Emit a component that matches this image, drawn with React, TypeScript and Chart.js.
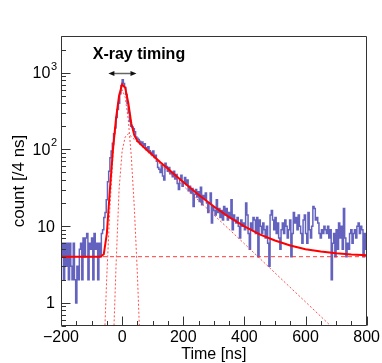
import { useEffect, useRef } from "react";
import { Chart, registerables } from "chart.js";

Chart.register(...registerables);

// ---- data ----
const X_START = -200;
const BIN_WIDTH = 4;
// counts per 4 ns bin, from -200 ns to 800 ns (250 bins)
const COUNTS = [
  4, 6, 2, 6, 3, 6, 2, 6, 3, 2,
  6, 2, 1, 3, 2, 5, 6, 2, 7, 4,
  7, 8, 2, 6, 5, 7, 2, 8, 5, 6,
  2, 6, 4, 8, 9, 13, 15, 22, 38, 52,
  78, 95, 120, 160, 190, 260, 330, 400, 530, 680,
  810, 720, 640, 520, 400, 300, 230, 200, 195, 185,
  170, 145, 140, 135, 128, 120, 125, 112, 118, 105,
  100, 108, 96, 92, 88, 95, 80, 84, 70, 58,
  55, 50, 62, 45, 40, 66, 60, 52, 58, 48,
  50, 44, 52, 41, 47, 36, 30, 40, 46, 33,
  38, 43, 35, 40, 29, 33, 27, 31, 18, 26,
  30, 24, 28, 21, 32, 19, 25, 23, 27, 20,
  15, 20, 27, 11, 18, 16, 14, 22, 15, 17,
  13, 16, 12, 18, 14, 17, 12, 15, 13, 22,
  9, 14, 12, 11, 13, 10, 7, 12, 10, 11,
  9, 20, 14, 8, 5, 11, 9, 13, 12, 8,
  13, 4, 12, 10, 8, 11, 9, 7, 10, 6,
  3, 14, 16, 12, 9, 13, 8, 11, 7, 5,
  9, 11, 8, 12, 10, 7, 9, 12, 4, 8,
  15, 11, 13, 9, 14, 10, 8, 6, 12, 14,
  8, 6, 15, 9, 7, 10, 18, 17, 12, 13,
  11, 8, 7, 9, 8, 10, 9, 8, 10, 7,
  9, 2, 6, 8, 4, 9, 5, 11, 7, 10,
  5, 17, 7, 4, 6, 5, 8, 9, 6, 8,
  9, 7, 10, 11, 8, 10, 9, 4, 8, 5,
];

// total fit curve
const FIT_X = [-200, -80, -70, -60, -50, -40, -30, -20, -10, 0, 10, 20, 30, 40, 50, 60, 80, 100, 125, 150, 175, 200, 250, 300, 350, 400, 450, 500, 550, 600, 650, 700, 750, 800];
const FIT_Y = [4, 4, 4.02, 4.3, 8, 30, 100, 252, 500, 705, 638, 405, 218, 152, 129, 117, 99, 84, 68, 56, 45.6, 37.5, 25.7, 18, 13.1, 9.9, 7.8, 6.5, 5.6, 5.0, 4.67, 4.43, 4.28, 4.18];

// prompt (gaussian) component
const PROMPT_X = [-70, -60, -50, -40, -30, -20, -10, 0, 10, 20, 30, 40, 50, 60, 70];
const PROMPT_Y = [0.011, 0.2, 2.32, 17.1, 81.2, 246.6, 480.6, 600, 480.6, 246.6, 81.2, 17.1, 2.32, 0.2, 0.011];

// delayed (exponential) component
const DELAYED_X = [-40, -30, -20, -10, 0, 10, 20, 30, 40, 60, 100, 150, 200, 300, 400, 500, 600, 700, 800];
const DELAYED_Y = [0.02, 0.2, 3, 30, 95, 145, 160, 147, 134.5, 113.5, 79.8, 51.7, 33.5, 14.0, 5.9, 2.46, 1.03, 0.43, 0.18];

// constant background
const BG_X = [-200, 800];
const BG_Y = [4, 4];

const X_MIN = -200;
const X_MAX = 800;
const Y_MIN = 0.5;
const Y_MAX = 3000;
const X_TICKS = [-200, 0, 200, 400, 600, 800];
const X_MINOR_STEP = 50;
const Y_TICKS = [1, 10, 100, 1000];
const Y_TICK_BASE = ["1", "10", "10", "10"];
const Y_TICK_EXP = ["", "", "2", "3"];

const LABEL = "X-ray timing";
const LABEL_X = 55;
const LABEL_Y = 1490;
const ARROW_X = [-45, 47];
const ARROW_Y = 1000;

const FONT = "'Liberation Sans', Arial, Helvetica, sans-serif";

const pts = (xs: number[], ys: number[]) => xs.map((x, i) => ({ x, y: ys[i] }));

const decor = {
  id: "decor",
  afterDatasetsDraw(chart: any) {
    const { ctx, chartArea: a, scales } = chart;
    const xs = scales.x;
    const ys = scales.y;
    ctx.save();
    const L = Math.round(a.left) + 0.5;
    const R = Math.round(a.right) - 0.5;
    const T = Math.round(a.top) + 0.5;
    const B = Math.round(a.bottom) - 0.5;
    ctx.strokeStyle = "#333";
    ctx.lineWidth = 1;
    ctx.beginPath();
    ctx.rect(L, T, R - L, B - T);
    ctx.stroke();

    // x ticks
    ctx.beginPath();
    for (let v = X_MIN; v <= X_MAX; v += X_MINOR_STEP) {
      const px = Math.round(xs.getPixelForValue(v)) + 0.5;
      const len = X_TICKS.includes(v) ? 9 : 4.5;
      ctx.moveTo(px, B);
      ctx.lineTo(px, B - len);
    }
    // y ticks
    for (let d = 0.1; d <= 1000; d *= 10) {
      for (let m = 1; m <= 9; m++) {
        const v = Math.round(m * d * 100) / 100;
        if (v < Y_MIN || v > Y_MAX) continue;
        const py = Math.round(ys.getPixelForValue(v)) + 0.5;
        const len = m === 1 ? 9 : 4.5;
        ctx.moveTo(L, py);
        ctx.lineTo(L + len, py);
      }
    }
    ctx.stroke();

    // y tick labels (with superscript exponents)
    ctx.fillStyle = "#000";
    ctx.textBaseline = "middle";
    ctx.textAlign = "right";
    Y_TICKS.forEach((v, i) => {
      const py = ys.getPixelForValue(v);
      const exp = Y_TICK_EXP[i];
      if (exp) {
        ctx.font = `11px ${FONT}`;
        const ew = ctx.measureText(exp).width;
        ctx.fillText(exp, a.left - 4, py - 6);
        ctx.font = `16px ${FONT}`;
        ctx.fillText(Y_TICK_BASE[i], a.left - 4 - ew - 0.5, py + 1);
      } else {
        ctx.font = `16px ${FONT}`;
        ctx.fillText(Y_TICK_BASE[i], a.left - 6, py + 1);
      }
    });

    // arrow
    const x1 = xs.getPixelForValue(ARROW_X[0]);
    const x2 = xs.getPixelForValue(ARROW_X[1]);
    const ay = Math.round(ys.getPixelForValue(ARROW_Y)) + 0.5;
    ctx.strokeStyle = "#666";
    ctx.lineWidth = 1.5;
    ctx.beginPath();
    ctx.moveTo(x1 + 4, ay);
    ctx.lineTo(x2 - 4, ay);
    ctx.stroke();
    ctx.fillStyle = "#111";
    ctx.beginPath();
    ctx.moveTo(x1, ay);
    ctx.lineTo(x1 + 6, ay - 2.6);
    ctx.lineTo(x1 + 6, ay + 2.6);
    ctx.closePath();
    ctx.moveTo(x2, ay);
    ctx.lineTo(x2 - 6, ay - 2.6);
    ctx.lineTo(x2 - 6, ay + 2.6);
    ctx.closePath();
    ctx.fill();

    // label
    ctx.fillStyle = "#000";
    ctx.font = `bold 16px ${FONT}`;
    ctx.textAlign = "center";
    ctx.textBaseline = "alphabetic";
    ctx.fillText(LABEL, xs.getPixelForValue(LABEL_X), ys.getPixelForValue(LABEL_Y));
    ctx.restore();
  },
};

export default function App() {
  const ref = useRef<HTMLCanvasElement | null>(null);

  useEffect(() => {
    if (!ref.current) return;
    Chart.defaults.font.family = FONT;
    const hist = COUNTS.map((c, i) => ({ x: X_START + i * BIN_WIDTH, y: c }));
    hist.push({ x: X_START + COUNTS.length * BIN_WIDTH, y: COUNTS[COUNTS.length - 1] });

    const chart = new Chart(ref.current, {
      type: "line",
      data: {
        datasets: [
          {
            label: "fit",
            data: pts(FIT_X, FIT_Y),
            borderColor: "#ff0000",
            borderWidth: 2,
            pointRadius: 0,
            tension: 0,
          },
          {
            label: "prompt",
            data: pts(PROMPT_X, PROMPT_Y),
            borderColor: "rgba(255,60,60,0.9)",
            borderWidth: 1,
            borderDash: [2, 2],
            pointRadius: 0,
            tension: 0,
          },
          {
            label: "delayed",
            data: pts(DELAYED_X, DELAYED_Y),
            borderColor: "rgba(255,60,60,0.9)",
            borderWidth: 1,
            borderDash: [2, 2],
            pointRadius: 0,
            tension: 0,
          },
          {
            label: "background",
            data: pts(BG_X, BG_Y),
            borderColor: "rgba(255,40,40,0.9)",
            borderWidth: 1,
            borderDash: [4, 3],
            pointRadius: 0,
            tension: 0,
          },
          {
            label: "data",
            data: hist,
            borderColor: "rgba(60,60,175,0.8)",
            borderWidth: 1.5,
            pointRadius: 0,
            stepped: true,
          },
        ],
      },
      options: {
        responsive: false,
        animation: false,
        devicePixelRatio: 1,
        layout: { padding: { left: 0, right: 15, top: 36, bottom: 0 } },
        plugins: { legend: { display: false }, tooltip: { enabled: false } },
        scales: {
          x: {
            type: "linear",
            min: X_MIN,
            max: X_MAX,
            grid: { display: false, drawTicks: false },
            border: { display: false },
            ticks: {
              padding: 2,
              color: "#000",
              font: { size: 16, family: FONT },
              maxRotation: 0,
              callback: (v: any) => (v < 0 ? "\u2212" + Math.abs(v) : String(v)),
            },
            afterBuildTicks: (s: any) => {
              s.ticks = X_TICKS.map((v) => ({ value: v }));
            },
            afterFit: (s: any) => {
              s.height = 37;
            },
            title: {
              display: true,
              text: "Time [ns]",
              color: "#000",
              font: { size: 16, family: FONT, lineHeight: 1 },
              padding: { top: 0, bottom: 0 },
            },
          },
          y: {
            type: "logarithmic",
            min: Y_MIN,
            max: Y_MAX,
            grid: { display: false, drawTicks: false },
            border: { display: false },
            ticks: {
              display: false,
            },
            afterBuildTicks: (s: any) => {
              s.ticks = Y_TICKS.map((v) => ({ value: v }));
            },
            afterFit: (s: any) => {
              s.width = 61;
            },
            title: {
              display: true,
              text: "count [/4 ns]",
              color: "#000",
              font: { size: 17, family: FONT, lineHeight: 1 },
              padding: { top: 11, bottom: 0 },
            },
          },
        },
      },
      plugins: [decor],
    });
    return () => chart.destroy();
  }, []);

  return (
    <div style={{ position: "absolute", left: 0, top: 0, width: 382, height: 363, background: "#fff" }}>
      <canvas ref={ref} width={382} height={363} />
    </div>
  );
}
